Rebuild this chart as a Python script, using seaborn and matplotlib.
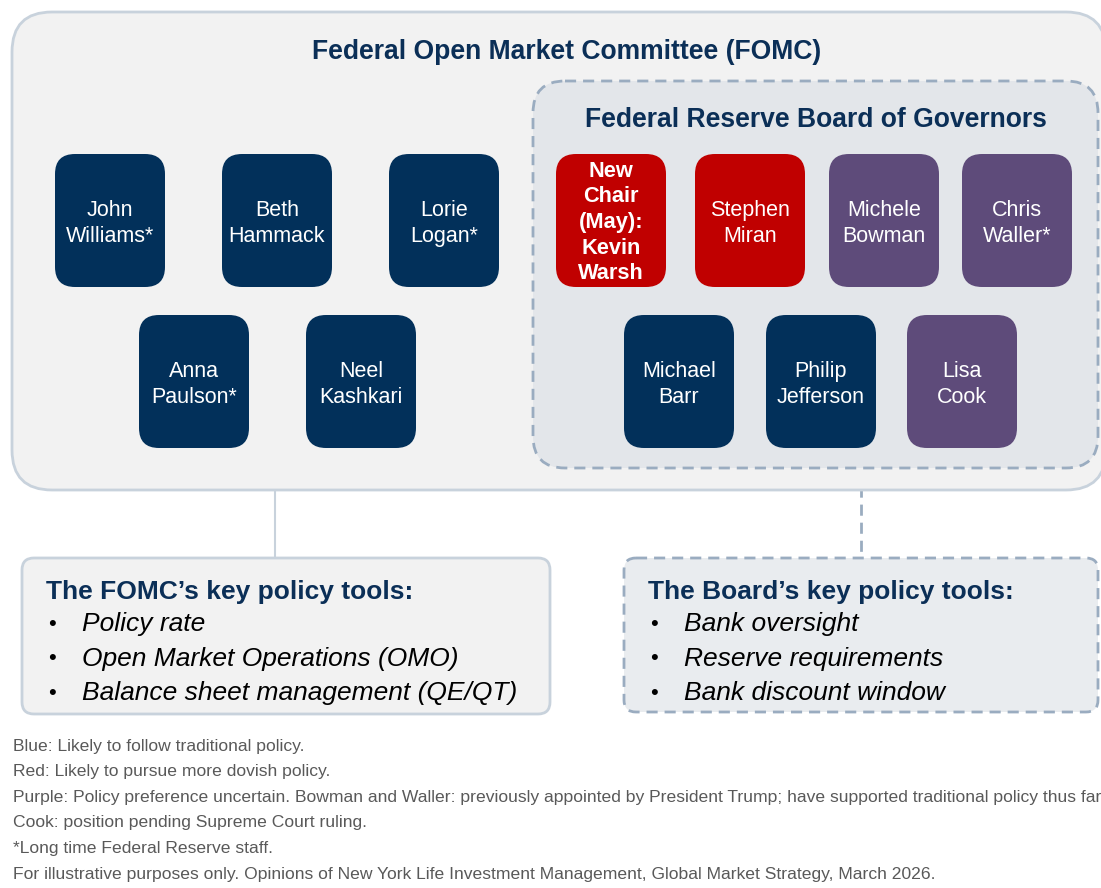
import matplotlib
matplotlib.use("Agg")
import matplotlib.pyplot as plt
from matplotlib.patches import FancyBboxPatch
import seaborn as sns

# ---- data ----
fomc_names = ["John\nWilliams*", "Beth\nHammack", "Lorie\nLogan*",
              "Anna\nPaulson*", "Neel\nKashkari"]
fomc_groups = ["blue", "blue", "blue", "blue", "blue"]
board_names = ["New\nChair\n(May):\nKevin\nWarsh", "Stephen\nMiran", "Michele\nBowman",
               "Chris\nWaller*", "Michael\nBarr", "Philip\nJefferson", "Lisa\nCook"]
board_groups = ["red", "red", "purple", "purple", "blue", "blue", "purple"]
bold_names = ["New\nChair\n(May):\nKevin\nWarsh"]
fomc_tools = ["Policy rate", "Open Market Operations (OMO)",
              "Balance sheet management (QE/QT)"]
board_tools = ["Bank oversight", "Reserve requirements", "Bank discount window"]
footnotes = [
    "Blue: Likely to follow traditional policy.",
    "Red: Likely to pursue more dovish policy.",
    "Purple: Policy preference uncertain. Bowman and Waller: previously appointed by "
    "President Trump; have supported traditional policy thus far.",
    "Cook: position pending Supreme Court ruling.",
    "*Long time Federal Reserve staff.",
    "For illustrative purposes only. Opinions of New York Life Investment Management, "
    "Global Market Strategy, March 2026.",
]
titles = ["Federal Open Market Committee (FOMC)", "Federal Reserve Board of Governors",
          "The FOMC\u2019s key policy tools:", "The Board\u2019s key policy tools:"]

# ---- style ----
sns.set_theme(style="white")
plt.rcParams['font.family'] = ['Liberation Sans', 'DejaVu Sans']
palette = {"blue": "#02305a", "red": "#c00000", "purple": "#5e4b7a"}
navy = "#0b2f57"
edge_light = "#c8d2dc"
edge_dash = "#9aacc0"

W, H = 1101, 888
fig = plt.figure(figsize=(W / 100, H / 100), dpi=100)
ax = fig.add_axes([0, 0, 1, 1])
ax.set_xlim(0, W)
ax.set_ylim(H, 0)
ax.set_axis_off()


def rbox(x0, y0, x1, y1, r, fc, ec=None, lw=0, ls="-", z=1):
    p = FancyBboxPatch((x0, y0), x1 - x0, y1 - y0,
                       boxstyle=f"round,pad=0,rounding_size={r}",
                       fc=fc, ec=ec if ec else "none", lw=lw, ls=ls, zorder=z)
    ax.add_patch(p)


# outer containers
rbox(12, 12, 1106, 490, 40, "#f2f2f2", edge_light, 2, z=1)
rbox(533, 81, 1098, 468, 32, "#e3e6ea", edge_dash, 2, (0, (4, 2.5)), z=2)
ax.text(567, 52, titles[0], ha="center", va="center", fontsize=19.1,
        fontweight="bold", color=navy, zorder=5)
ax.text(816, 120, titles[1], ha="center", va="center", fontsize=19.1,
        fontweight="bold", color=navy, zorder=5)

# connectors
ax.plot([275, 275], [490, 558], color=edge_light, lw=1.5, zorder=0)
ax.plot([861, 861], [468, 557], color=edge_dash, lw=2, ls=(0, (4, 2.5)), zorder=0)

# member tiles
bw, bh = 110, 133
fomc_pos = [(55, 154), (222, 154), (389, 154), (139, 315), (306, 315)]
board_pos = [(556, 154), (695, 154), (829, 154), (962, 154),
             (624, 315), (766, 315), (907, 315)]
for names, groups, pos in [(fomc_names, fomc_groups, fomc_pos),
                           (board_names, board_groups, board_pos)]:
    for name, grp, (x0, y0) in zip(names, groups, pos):
        rbox(x0, y0, x0 + bw, y0 + bh, 20, palette[grp], z=3)
        bold = name in bold_names
        ax.text(x0 + bw / 2, y0 + bh / 2 + (2 if bold else 3), name,
                ha="center", va="center",
                color="white", fontsize=15.7 if bold else 15.5,
                linespacing=1.29 if bold else 1.32,
                fontweight="bold" if bold else "normal", zorder=6)

# tool boxes
rbox(22, 558, 550, 714, 12, "#f2f2f2", edge_light, 2, z=1)
rbox(624, 558, 1098, 712, 12, "#e9ecef", edge_dash, 2, (0, (4, 2.5)), z=1)
for x, title, tools in [(46, titles[2], fomc_tools), (648, titles[3], board_tools)]:
    ax.text(x, 592, title, ha="left", va="center", fontsize=19,
            fontweight="bold", color=navy, zorder=5)
    for i, t in enumerate(tools):
        y = 624 + i * 34.5
        ax.text(x + 2, y, "\u2022", ha="left", va="center", fontsize=16,
                color="black", zorder=5)
        ax.text(x + 36, y, t, ha="left", va="center", fontsize=19,
                style="italic", color="black", zorder=5)

# footnotes
for i, note in enumerate(footnotes):
    ax.text(13, 746 + i * 25.6, note, ha="left", va="center", fontsize=12.6,
            color="#595959", zorder=5)

fig.savefig("out.png", dpi=100)
